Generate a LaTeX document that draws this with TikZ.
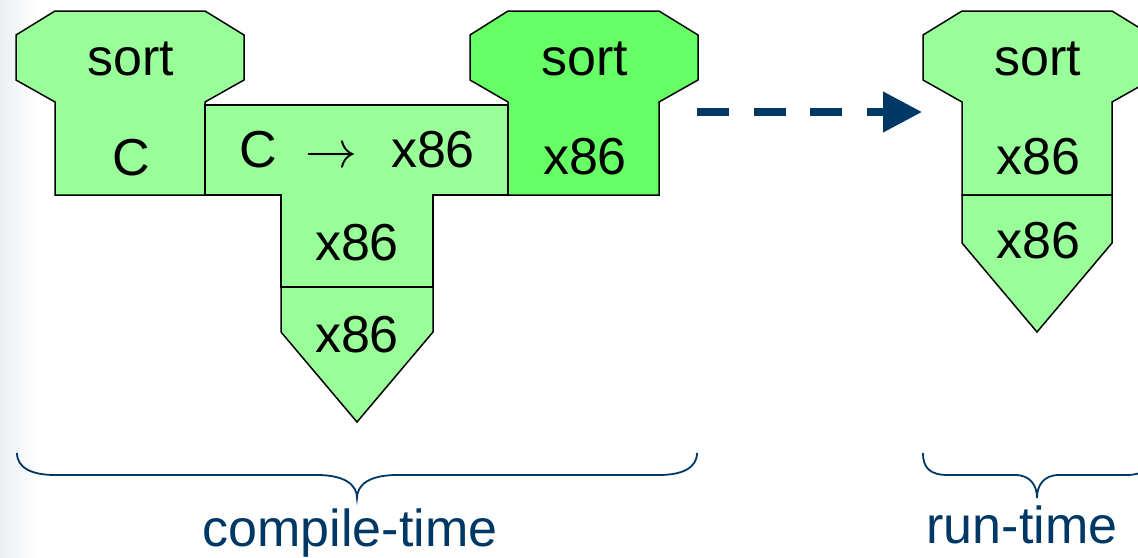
\documentclass[tikz,border=0pt]{standalone}
\usepackage{fontspec}
\setmainfont{Liberation Sans}
\usetikzlibrary{arrows.meta}
\definecolor{lgreen}{RGB}{153,255,153}
\definecolor{dgreen}{RGB}{102,255,102}
\definecolor{navy}{RGB}{0,56,101}
\definecolor{bggray}{RGB}{236,238,242}
\newcommand{\bigrarrow}{\scalebox{5.2}{\fontsize{10}{12}\selectfont$\rightarrow$}}
\begin{document}
\begin{tikzpicture}[x=1pt,y=-1pt,
  part/.style={draw=black,line width=1.5pt,line join=miter},
  lbl/.style={font=\fontsize{52}{60}\selectfont,anchor=base,inner sep=0pt},
  captxt/.style={font=\fontsize{52}{60}\selectfont,anchor=base,inner sep=0pt,text=navy},
  brc/.style={draw=navy,line width=1.8pt}]
\clip (0,0) rectangle (1138,557);
\fill[white] (0,0) rectangle (1138,557);
\shade[left color=bggray,right color=white] (0,0) rectangle (40,557);
% program sort in C
\draw[part,fill=lgreen] (55,11) -- (205,11) -- (244,35) -- (244,80) -- (205,102) -- (205,195) -- (55,195) -- (55,102) -- (16,80) -- (16,35) -- cycle;
% compiler C -> x86
\draw[part,fill=lgreen] (205,105) -- (508,105) -- (508,195) -- (433,195) -- (433,287) -- (281,287) -- (281,195) -- (205,195) -- cycle;
% machine x86 (compile-time)
\draw[part,fill=lgreen] (281,287) -- (433,287) -- (433,332) -- (357,422) -- (281,332) -- cycle;
% program sort in x86 (output)
\draw[part,fill=dgreen] (508,11) -- (659,11) -- (698,35) -- (698,80) -- (659,102) -- (659,195) -- (508,195) -- (508,102) -- (470,80) -- (470,35) -- cycle;
% run-time program
\draw[part,fill=lgreen] (962,11) -- (1112,11) -- (1151,35) -- (1151,80) -- (1112,102) -- (1112,195) -- (962,195) -- (962,102) -- (923,80) -- (923,35) -- cycle;
\draw[part,fill=lgreen] (962,195) -- (1112,195) -- (1112,243) -- (1037,332) -- (962,243) -- cycle;
% texts
\node[lbl] (s1) at (131,75) {sort};
\node[lbl] (c1) at (131,175) {C};
\node[lbl] (comp) at (357,167) {C\hspace{0.55em}\bigrarrow\hspace{0.65em}x86};
\node[lbl] (x3) at (357,260) {x86};
\node[lbl] (x4) at (357,352) {x86};
\node[lbl] (s2) at (585,75) {sort};
\node[lbl] (x2) at (585,174) {x86};
\node[lbl] (s5) at (1038,75) {sort};
\node[lbl] (x5) at (1038,174) {x86};
\node[lbl] (x6) at (1038,258) {x86};
% arrow
\coordinate (aS) at (697,112);
\coordinate (aE) at (922,112);
\draw[navy,line width=7.5pt,dash pattern=on 32pt off 24.5pt,-{Triangle[length=39pt,width=39pt]}] (aS) -- (aE);
% braces
\draw[brc] (17,453) .. controls (17,468) and (32,475) .. (55,475) -- (317,475) .. controls (345,475) and (357,485) .. (357,498) .. controls (357,485) and (369,475) .. (397,475) -- (659,475) .. controls (682,475) and (697,468) .. (697,453);
\draw[brc] (923,453) .. controls (923,468) and (930,475) .. (948,475) -- (1015,475) .. controls (1030,475) and (1037,485) .. (1037,498) .. controls (1037,485) and (1044,475) .. (1059,475) -- (1126,475) .. controls (1144,475) and (1151,468) .. (1151,453);
\node[captxt] (ct) at (350,546) {compile-time};
\node[captxt] (rt) at (1022,543) {run-time};
\end{tikzpicture}
\end{document}
